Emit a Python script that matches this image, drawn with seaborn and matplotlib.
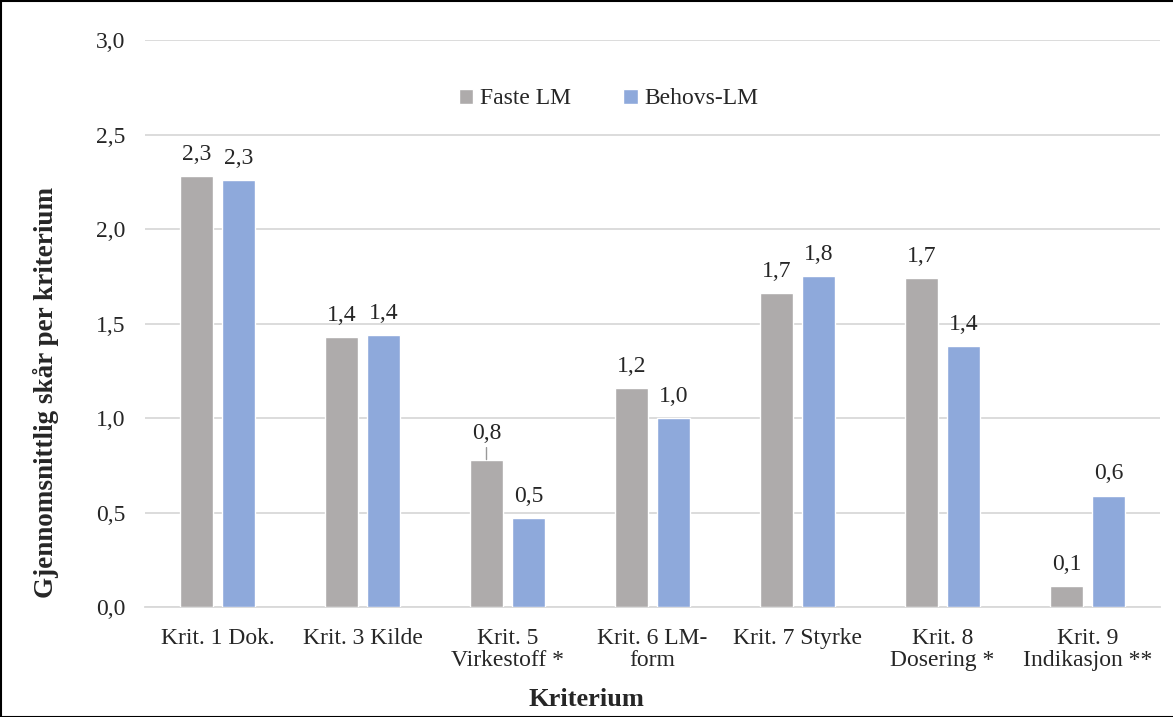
import matplotlib
matplotlib.use("Agg")
import matplotlib.pyplot as plt
import seaborn as sns
import pandas as pd
from matplotlib.patches import Rectangle

kriterier = ["Krit. 1 Dok.", "Krit. 3 Kilde", "Krit. 5\nVirkestoff *", "Krit. 6 LM-\nform",
             "Krit. 7 Styrke", "Krit. 8\nDosering *", "Krit. 9\nIndikasjon **"]
faste = [2.28, 1.43, 0.78, 1.16, 1.66, 1.74, 0.11]
behovs = [2.26, 1.44, 0.47, 1.00, 1.75, 1.38, 0.59]
grupper = ["Faste LM", "Behovs-LM"]
farger = ["#AEABAB", "#8EA9DB"]

df = pd.DataFrame({
    "Kriterium": kriterier * 2,
    "Skår": faste + behovs,
    "Gruppe": [grupper[0]] * len(kriterier) + [grupper[1]] * len(kriterier),
})

sns.set_style("white")
plt.rcParams["font.family"] = ["Liberation Serif", "DejaVu Serif"]

fig = plt.figure(figsize=(11.73, 7.17), dpi=100)
ax = fig.add_axes([0.1236, 0.1534, 0.8654, 0.7908])

sns.barplot(data=df, x="Kriterium", y="Skår", hue="Gruppe", palette=farger,
            width=0.58, gap=0.21, saturation=1, ax=ax, zorder=3)

ax.set_ylim(0, 3.0)
ax.set_xlim(-0.5, len(kriterier) - 0.5)
ax.set_yticks([0, 0.5, 1.0, 1.5, 2.0, 2.5, 3.0])
ax.set_yticklabels([f"{t:.1f}".replace(".", ",") for t in ax.get_yticks()], fontsize=17)
ax.tick_params(axis="x", labelsize=17, length=0, pad=15)
ax.tick_params(axis="y", length=0, pad=14)
for t in ax.get_xticklabels():
    t.set_linespacing(1.05)
ax.grid(axis="y", color="#D9D9D9", linewidth=1.3, zorder=0)
for s in ["top", "right", "left"]:
    ax.spines[s].set_visible(False)
ax.spines["bottom"].set_color("#D9D9D9")
ax.spines["bottom"].set_linewidth(1.3)
ax.set_xlabel("")
ax.set_ylabel("")

# verdietiketter
for cont in ax.containers:
    for bar in cont:
        h = bar.get_height()
        x = bar.get_x() + bar.get_width() / 2
        lab = f"{h:.1f}".replace(".", ",")
        if abs(h - faste[2]) < 1e-9:
            ax.annotate(lab, xy=(x, h), xytext=(0, 11), textcoords="offset points",
                        ha="center", va="bottom", fontsize=17,
                        arrowprops=dict(arrowstyle="-", color="#999999", lw=1,
                                        shrinkA=0, shrinkB=0))
        else:
            ax.annotate(lab, xy=(x, h), xytext=(0, 8), textcoords="offset points",
                        ha="center", va="bottom", fontsize=17)

leg = ax.legend(loc="upper center", bbox_to_anchor=(0.457, 0.952), ncol=2, frameon=False,
                fontsize=17, handlelength=0.6, handleheight=0.6, handletextpad=0.3,
                columnspacing=2.2)

fig.text(0.5, 0.024, "Kriterium", ha="center", va="center", fontsize=19, fontweight="bold")
fig.text(0.039, 0.453, "Gjennomsnittlig skår per kriterium", ha="center", va="center",
         rotation=90, fontsize=19.5, fontweight="bold")

fig.patches.append(Rectangle((0.001, 0.0), 1.5, 0.998, transform=fig.transFigure,
                             fill=False, edgecolor="black", linewidth=1.5))

fig.savefig("out.png", dpi=100)
